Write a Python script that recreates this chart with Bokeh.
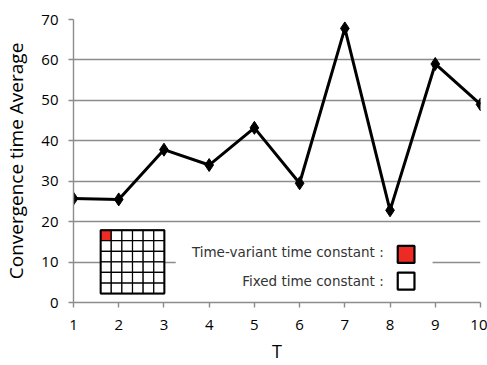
import numpy as np
from bokeh.plotting import figure
from bokeh.models import Range1d, FixedTicker, ColumnDataSource
from bokeh.core.properties import value
from bokeh.embed import file_html
from bokeh.resources import INLINE

# data
t_values = [1, 2, 3, 4, 5, 6, 7, 8, 9, 10]
conv_avg = [25.7, 25.5, 37.8, 34.0, 43.2, 29.5, 67.8, 22.8, 59.0, 49.0]
y_ticks = [0, 10, 20, 30, 40, 50, 60, 70]
legend_labels = ["Time-variant time constant :", "Fixed time constant :"]
legend_colors = ["#ee2a24", "white"]

p = figure(width=487, height=365, output_backend="svg", toolbar_location=None,
           x_range=Range1d(1, 10), y_range=Range1d(0, 70),
           min_border_left=73, min_border_right=7, min_border_top=19, min_border_bottom=61)
p.outline_line_color = None
p.background_fill_color = "white"
p.xgrid.grid_line_color = None
p.ygrid.grid_line_color = "#8c8c8c"
p.ygrid.grid_line_width = 1.4
p.ygrid.ticker = FixedTicker(ticks=y_ticks[1:])

for ax in (p.xaxis[0], p.yaxis[0]):
    ax.axis_line_color = "#8c8c8c"
    ax.axis_line_width = 1.4
    ax.major_tick_line_color = "#8c8c8c"
    ax.major_tick_line_width = 1.4
    ax.major_tick_out = 5
    ax.major_tick_in = 0
    ax.minor_tick_line_color = None
    ax.major_label_text_font = "Open Sans"
    ax.major_label_text_font_size = "15px"
    ax.major_label_text_color = "black"
    ax.axis_label_text_font = "Open Sans"
    ax.axis_label_text_font_style = "normal"
    ax.axis_label_text_font_size = "19px"
    ax.axis_label_text_color = "black"

p.xaxis.ticker = FixedTicker(ticks=t_values)
p.yaxis.ticker = FixedTicker(ticks=y_ticks)
p.xaxis.axis_label = "T"
p.yaxis.axis_label = "Convergence time Average"
p.xaxis.axis_label_text_font_size = "18px"
p.xaxis.major_label_standoff = 12
p.yaxis.major_label_standoff = 10
p.xaxis.axis_label_standoff = 6
p.yaxis.axis_label_standoff = 9

# data line
src = ColumnDataSource(dict(x=t_values, y=conv_avg))
p.line("x", "y", source=src, line_color="black", line_width=3)
p.scatter("x", "y", source=src, marker="diamond", size=13, fill_color="black", line_color="black")

# white box behind legend text
p.quad(left=3.26, right=8.94, bottom=2.3, top=15.6, fill_color="white", line_color=None)

# inset grid 6x6
n = 6
xs = np.linspace(1.60, 3.01, n + 1)
ys = np.linspace(17.9, 2.2, n + 1)
L, R, T, B, C = [], [], [], [], []
for i in range(n):
    for j in range(n):
        L.append(xs[j]); R.append(xs[j + 1]); T.append(ys[i]); B.append(ys[i + 1])
        C.append("#ee2a24" if (i == 0 and j == 0) else "white")
p.quad(left=L, right=R, top=T, bottom=B, fill_color=C, line_color="black", line_width=1.2)
p.quad(left=[xs[0]], right=[xs[-1]], top=[ys[0]], bottom=[ys[-1]], fill_color=None,
       line_color="black", line_width=2)

# legend text and squares
p.text(x=[7.86, 7.86], y=[12.5, 5.3], text=legend_labels, text_align="right",
       text_baseline="middle", text_font=value("DejaVu Sans"), text_font_size="13.5px",
       text_color="#333333")
p.quad(left=[8.17, 8.17], right=[8.54, 8.54], top=[14.0, 7.4], bottom=[9.8, 3.2],
       fill_color=legend_colors, line_color="black", line_width=2.2)

open("out.html", "w").write(file_html(p, INLINE))
